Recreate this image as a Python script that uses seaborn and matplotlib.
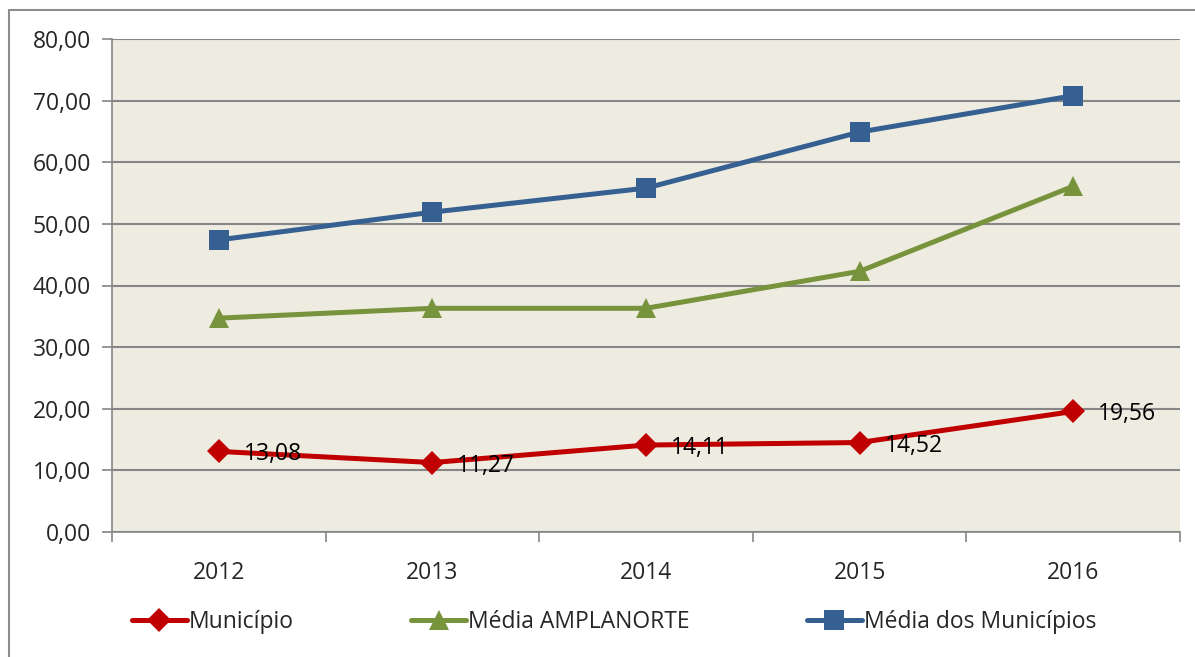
import matplotlib
matplotlib.use("Agg")
import matplotlib.pyplot as plt
import matplotlib.ticker as mticker
import pandas as pd
import seaborn as sns
from matplotlib.lines import Line2D

years = [2012, 2013, 2014, 2015, 2016]
municipio = [13.08, 11.27, 14.11, 14.52, 19.56]
media_amplanorte = [34.7, 36.3, 36.3, 42.3, 56.1]
media_municipios = [47.4, 51.9, 55.8, 64.9, 70.8]
series_names = ["Município", "Média AMPLANORTE", "Média dos Municípios"]

colors = {
    "Município": "#C00000",
    "Média AMPLANORTE": "#77933C",
    "Média dos Municípios": "#376092",
}
markers = {"Município": "D", "Média AMPLANORTE": "^", "Média dos Municípios": "s"}

df = pd.DataFrame({
    "ano": years * 3,
    "valor": municipio + media_amplanorte + media_municipios,
    "serie": [series_names[0]] * 5 + [series_names[1]] * 5 + [series_names[2]] * 5,
})

sns.set_theme(style="white")
plt.rcParams["font.family"] = ["Open Sans", "DejaVu Sans"]
FS = 16.5

fig = plt.figure(figsize=(11.95, 6.57), dpi=100)
ax = fig.add_axes([112 / 1195, 1 - 532 / 657, (1180 - 112) / 1195, (532 - 39) / 657])
ax.set_facecolor("#EEECE1")

sizes = {"Município": 12, "Média AMPLANORTE": 14, "Média dos Municípios": 14}
for name in series_names:
    sub = df[df["serie"] == name]
    sns.lineplot(
        data=sub, x="ano", y="valor", ax=ax, color=colors[name],
        marker=markers[name], markersize=sizes[name], markeredgewidth=0,
        linewidth=3.6, label=name, legend=False, zorder=3,
    )

for x, v in zip(years, municipio):
    ax.annotate(f"{v:.2f}".replace(".", ","), (x, v), xytext=(25, -3),
                textcoords="offset pixels", ha="left", va="center",
                fontsize=FS, color="black", zorder=4)

ax.set_xlim(2011.5, 2016.5)
ax.set_ylim(0, 80)
ax.set_yticks(range(0, 81, 10))
ax.yaxis.set_major_formatter(mticker.FuncFormatter(lambda v, p: f"{v:.2f}".replace(".", ",")))
ax.set_xticks(years)
ax.set_xticks([y - 0.5 for y in years] + [2016.5], minor=True)
ax.tick_params(axis="x", which="major", length=0, labelsize=FS, pad=21)
ax.tick_params(axis="x", which="minor", length=7, width=1.2, color="#868686", direction="out")
ax.tick_params(axis="y", which="major", length=7, width=1.2, color="#868686",
               direction="out", labelsize=FS, pad=8)
ax.xaxis.set_ticks_position("bottom")
ax.yaxis.set_ticks_position("left")
ax.grid(axis="y", color="#868686", linewidth=1.5)
ax.set_axisbelow(True)
ax.set_xlabel("")
ax.set_ylabel("")
for side in ["top", "right"]:
    ax.spines[side].set_visible(False)
for side in ["left", "bottom"]:
    ax.spines[side].set_color("#868686")
    ax.spines[side].set_linewidth(1.2)

handles = [
    Line2D([], [], color=colors[n], marker=markers[n], markersize=sizes[n],
           markeredgewidth=0, linewidth=3.6)
    for n in series_names
]
fig.legend(handles, series_names, loc="center", bbox_to_anchor=(0.514, 1 - 622 / 657),
           ncol=3, frameon=False, fontsize=FS, handlelength=2.4,
           handletextpad=0.1, columnspacing=5.1)

# outer chart frame (left and top edges visible)
fig.add_artist(Line2D([9 / 1195, 9 / 1195], [0, 1 - 10 / 657], transform=fig.transFigure,
                      color="#8C8C8C", linewidth=1.5))
fig.add_artist(Line2D([9 / 1195, 1], [1 - 10 / 657, 1 - 10 / 657], transform=fig.transFigure,
                      color="#8C8C8C", linewidth=1.5))

fig.savefig("out.png", dpi=100)
